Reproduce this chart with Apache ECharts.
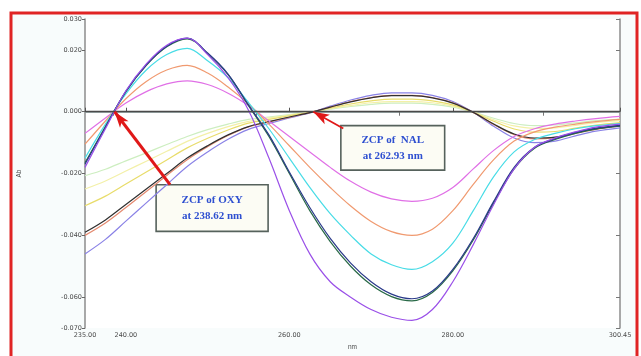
<!DOCTYPE html>
<html>
<head>
<meta charset="utf-8">
<script src="https://cdn.jsdelivr.net/npm/echarts@6/dist/echarts.min.js"></script>
<style>
  html, body { margin: 0; padding: 0; background: #fff; }
  #chart { width: 641px; height: 356px; }
</style>
</head>
<body>
<div id="chart"></div>
<script>
// wavelength (nm)
const wavelengths = [235, 237.5, 240, 242.5, 245, 247.5, 250, 252.5, 255, 257.5, 260, 262.5, 265,
  267.5, 270, 272.5, 275, 277.5, 280, 282.5, 285, 287.5, 290, 292.5, 295, 297.5, 300.45];

// OXY spectra (zero crossing at 238.62 nm)
const oxyViolet = [-0.018, -0.0055, 0.0068, 0.0155, 0.0215, 0.0238, 0.0185, 0.0110, 0.0005, -0.0150, -0.0320, -0.0460, -0.0550,
  -0.0600, -0.0640, -0.0665, -0.0675, -0.0640, -0.0550, -0.0430, -0.0300, -0.0185, -0.0115, -0.0085, -0.0065, -0.0050, -0.0040];
const oxyGreen = [-0.0165, -0.0048, 0.0065, 0.0150, 0.0210, 0.0236, 0.0188, 0.0120, 0.0020, -0.0080, -0.0200, -0.0320, -0.0420,
  -0.0500, -0.0560, -0.0598, -0.0612, -0.0585, -0.0515, -0.0415, -0.0295, -0.0185, -0.0118, -0.0090, -0.0070, -0.0056, -0.0047];
const oxyNavy = [-0.017, -0.005, 0.0066, 0.0152, 0.0212, 0.0238, 0.0190, 0.0122, 0.0022, -0.0075, -0.0195, -0.0310, -0.0410,
  -0.0490, -0.0550, -0.0590, -0.0605, -0.0580, -0.0510, -0.0410, -0.0290, -0.0180, -0.0115, -0.0087, -0.0067, -0.0053, -0.0044];
const oxyCyan = [-0.015, -0.004, 0.0058, 0.0135, 0.0185, 0.0205, 0.0165, 0.0110, 0.0030, -0.0055, -0.0150, -0.0245, -0.0330,
  -0.0400, -0.0460, -0.0495, -0.0510, -0.0485, -0.0425, -0.0320, -0.0210, -0.0130, -0.0090, -0.0070, -0.0055, -0.0045, -0.0038];
const oxyOrange = [-0.0105, -0.003, 0.0042, 0.0098, 0.0135, 0.0150, 0.0125, 0.0080, 0.0025, -0.0040, -0.0110, -0.0180, -0.0245,
  -0.0305, -0.0355, -0.0388, -0.0400, -0.0380, -0.0320, -0.0235, -0.0155, -0.0095, -0.0065, -0.0050, -0.0040, -0.0032, -0.0025];
const oxyPink = [-0.007, -0.002, 0.0028, 0.0065, 0.0090, 0.0100, 0.0088, 0.0060, 0.0020, -0.0030, -0.0080, -0.0130, -0.0180,
  -0.0225, -0.0260, -0.0282, -0.0290, -0.0280, -0.0245, -0.0185, -0.0125, -0.0080, -0.0055, -0.0040, -0.0030, -0.0022, -0.0015];

// NAL spectra (zero crossing at 262.93 nm)
const nalLavender = [-0.046, -0.0413, -0.0354, -0.0295, -0.0236, -0.0177, -0.0130, -0.0089, -0.0057, -0.0038, -0.0020, -0.0004, 0.0018,
  0.0038, 0.0053, 0.0061, 0.0061, 0.0053, 0.0033, -0.0002, -0.0047, -0.0085, -0.0100, -0.0095, -0.0078, -0.0063, -0.0052];
const nalRed = [-0.040, -0.036, -0.031, -0.0258, -0.0206, -0.0155, -0.0113, -0.0077, -0.0049, -0.0033, -0.0018, -0.0003, 0.0015,
  0.0033, 0.0046, 0.0053, 0.0053, 0.0046, 0.0029, -0.0002, -0.0041, -0.0074, -0.0088, -0.0084, -0.0070, -0.0057, -0.0046];
const nalBlack = [-0.039, -0.035, -0.030, -0.025, -0.020, -0.015, -0.0110, -0.0075, -0.0048, -0.0032, -0.0017, -0.0003, 0.0015,
  0.0032, 0.0045, 0.0052, 0.0052, 0.0045, 0.0028, -0.0002, -0.0040, -0.0072, -0.0085, -0.0082, -0.0068, -0.0055, -0.0045];
const nalYellow = [-0.0304, -0.0273, -0.0234, -0.0195, -0.0156, -0.0117, -0.0086, -0.0059, -0.0037, -0.0025, -0.0013, -0.0002, 0.0012,
  0.0025, 0.0035, 0.0041, 0.0041, 0.0035, 0.0022, -0.0002, -0.0031, -0.0056, -0.0066, -0.0064, -0.0053, -0.0043, -0.0035];
const nalLightYellow = [-0.025, -0.0224, -0.0192, -0.016, -0.0128, -0.0096, -0.0070, -0.0048, -0.0031, -0.0020, -0.0011, -0.0002, 0.0010,
  0.0020, 0.0029, 0.0033, 0.0033, 0.0029, 0.0018, -0.0001, -0.0026, -0.0046, -0.0054, -0.0052, -0.0044, -0.0035, -0.0029];
const nalPaleGreen = [-0.0207, -0.0186, -0.0159, -0.0133, -0.0106, -0.008, -0.0058, -0.004, -0.0025, -0.0017, -0.0009, -0.0002, 0.0008,
  0.0017, 0.0024, 0.0028, 0.0028, 0.0024, 0.0015, -0.0001, -0.0021, -0.0038, -0.0045, -0.0043, -0.0036, -0.0029, -0.0024];

const xTicks = [235, 240, 260, 280, 300.45];
const xTopTicks = [238.5, 256, 273.5, 291];
const yTicks = [-0.07, -0.06, -0.04, -0.02, 0, 0.02, 0.03];

const chart = echarts.init(document.getElementById('chart'));

const curves = [
  {data: nalPaleGreen, color: '#cdeec0'},
  {data: nalLightYellow, color: '#f3f0a8'},
  {data: nalYellow, color: '#e8dc6a'},
  {data: nalLavender, color: '#8a82e6'},
  {data: nalRed, color: '#e48a70'},
  {data: nalBlack, color: '#303030'},
  {data: oxyPink, color: '#e070e6'},
  {data: oxyOrange, color: '#f09a70'},
  {data: oxyCyan, color: '#48dce6'},
  {data: oxyGreen, color: '#2a6a48'},
  {data: oxyNavy, color: '#2a3a8a'},
  {data: oxyViolet, color: '#9a50e8'}
];

const series = curves.map(c => ({
  type: 'line',
  data: wavelengths.map((w, i) => [w, c.data[i]]),
  smooth: 0.35,
  symbol: 'none',
  lineStyle: {color: c.color, width: 1.2},
  z: 3
}));

const boxLabel = {
  show: true,
  position: 'inside',
  color: '#2e4fd0',
  fontFamily: 'Liberation Serif',
  fontWeight: 'bold',
  fontSize: 11,
  lineHeight: 16,
  align: 'center'
};

// zero line, arrows and annotation boxes
series.push({
  type: 'line',
  data: [],
  z: 10,
  markLine: {
    silent: true,
    symbol: 'none',
    label: {show: false},
    lineStyle: {color: '#4a4a4a', width: 1.3, type: 'solid'},
    data: [{yAxis: 0}]
  }
});
series.push({
  type: 'line',
  data: [],
  z: 12,
  markArea: {
    silent: true,
    itemStyle: {color: '#fcfcf4', borderColor: '#56625c', borderWidth: 1.6},
    label: boxLabel,
    data: [
      [{coord: [243.7, -0.0236], name: 'ZCP of OXY\nat 238.62 nm'}, {coord: [257.4, -0.0387]}],
      [{coord: [266.3, -0.0045], name: 'ZCP of  NAL\nat 262.93 nm'}, {coord: [279.0, -0.0189]}]
    ]
  },
  markLine: {
    silent: true,
    symbol: ['none', 'arrow'],
    label: {show: false},
    data: [
      [{coord: [245.4, -0.0236], symbolSize: 12, lineStyle: {color: '#e01818', width: 3, type: 'solid'}},
       {coord: [238.62, 0]}],
      [{coord: [266.6, -0.0054], symbolSize: 8, lineStyle: {color: '#e01818', width: 1.8, type: 'solid'}},
       {coord: [262.93, 0]}]
    ]
  }
});

const tickLabel = {fontSize: 6.5, color: '#4a4a4a', fontFamily: 'DejaVu Sans'};

chart.setOption({
  animation: false,
  backgroundColor: '#ffffff',
  graphic: [{
    type: 'rect',
    shape: {x: 11, y: 13, width: 626, height: 360},
    style: {fill: '#f8fcfc', stroke: '#e02424', lineWidth: 3},
    z: -10
  }],
  grid: {
    left: 85, right: 21, top: 19, bottom: 18,
    show: true, backgroundColor: '#ffffff', borderWidth: 0
  },
  xAxis: [{
    type: 'value',
    min: 235, max: 300.45,
    name: 'nm',
    nameLocation: 'middle',
    nameGap: 12,
    nameTextStyle: {fontSize: 6.5, color: '#4a4a4a'},
    axisLine: {lineStyle: {color: '#b08888', width: 1.5}},
    axisTick: {show: true, inside: true, length: 4, customValues: xTicks, lineStyle: {color: '#555'}},
    axisLabel: Object.assign({customValues: xTicks, margin: 4, formatter: v => v.toFixed(2)}, tickLabel),
    splitLine: {show: false}
  }, {
    type: 'value',
    position: 'top',
    min: 235, max: 300.45,
    axisLine: {lineStyle: {color: '#98b4b4', width: 1.5}},
    axisTick: {show: true, inside: true, length: 4, customValues: xTopTicks, lineStyle: {color: '#777'}},
    axisLabel: {show: false},
    splitLine: {show: false}
  }],
  yAxis: [{
    type: 'value',
    min: -0.07, max: 0.03,
    name: 'Ab',
    nameLocation: 'middle',
    nameGap: 62,
    nameRotate: 90,
    nameTextStyle: {fontSize: 6.5, color: '#4a4a4a'},
    axisLine: {show: true, lineStyle: {color: '#8c8c8c', width: 1.5}},
    axisTick: {show: true, length: 3, customValues: yTicks, lineStyle: {color: '#666'}},
    axisLabel: Object.assign({customValues: yTicks, margin: 3, formatter: v => v.toFixed(3)}, tickLabel),
    splitLine: {show: false}
  }, {
    type: 'value',
    position: 'right',
    min: -0.07, max: 0.03,
    axisLine: {show: true, lineStyle: {color: '#8c8c8c', width: 1.5}},
    axisTick: {show: true, inside: true, length: 4, customValues: yTicks, lineStyle: {color: '#777'}},
    axisLabel: {show: false},
    splitLine: {show: false}
  }],
  series: series
});
</script>
</body>
</html>
